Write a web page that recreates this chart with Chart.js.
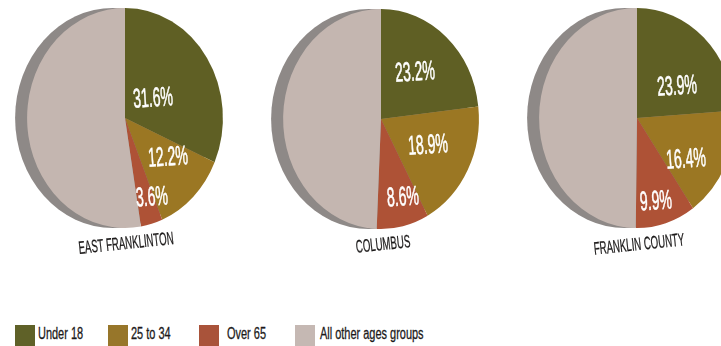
<!DOCTYPE html>
<html lang="en">
<head>
  <meta charset="UTF-8" />
  <title>Age groups by area</title>
  <script src="https://cdn.jsdelivr.net/npm/chart.js"></script>
  <style>
    html, body {
      margin: 0;
      background: #fff;
    }
    body {
      width: 721px;
      height: 346px;
      position: relative;
      overflow: hidden;
      font-family: "Liberation Sans", sans-serif;
      color: #1c1a1a;
    }
    canvas {
      position: absolute;
    }
    .caption {
      position: absolute;
      white-space: nowrap;
      font-size: 18px;
      line-height: 18px;
      -webkit-text-stroke: 0.3px #1c1a1a;
      transform: translate(-50%, -50%) rotate(-6deg) scaleX(0.535);
    }
    .swatch {
      position: absolute;
      top: 325px;
      width: 20px;
      height: 21px;
    }
    .legend-text {
      position: absolute;
      top: 326px;
      white-space: nowrap;
      font-size: 16px;
      line-height: 16px;
      -webkit-text-stroke: 0.3px #1c1a1a;
      transform-origin: left center;
      transform: scaleX(0.685);
    }
  </style>
</head>
<body>

  <canvas id="eastChart" width="250" height="236" style="left:0;top:0"></canvas>
  <canvas id="columbusChart" width="250" height="236" style="left:256px;top:1px"></canvas>
  <canvas id="franklinChart" width="250" height="236" style="left:512px;top:0"></canvas>

  <script>
    const categories = ['Under 18', '25 to 34', 'Over 65', 'All other ages groups'];
    const eastFranklinton = [31.6, 12.2, 3.6, 52.6];
    const columbus = [23.2, 18.9, 8.6, 49.3];
    const franklinCounty = [23.9, 16.4, 9.9, 49.8];
    const areaNames = ['EAST FRANKLINTON', 'COLUMBUS', 'FRANKLIN COUNTY'];

    const sliceColors = ['#5f5f24', '#9b7723', '#ae5236', '#c4b6b0'];
    const legendColors = ['#5f6128', '#97762a', '#a9533a', '#c5b8b3'];
    const RIM_COLOR = '#8e8987';
    const SQUASH_X = 0.89; // pies are a bit narrower than tall
    const RIM_SHIFT = 12;

    // squashes the arcs into an ellipse and paints the grey rim behind them
    const tiltedPie = {
      id: 'tiltedPie',
      beforeDatasetsDraw(chart) {
        const { ctx } = chart;
        const arc = chart.getDatasetMeta(0).data[0];
        ctx.save();
        ctx.fillStyle = RIM_COLOR;
        ctx.beginPath();
        ctx.ellipse(arc.x - RIM_SHIFT, arc.y, arc.outerRadius * SQUASH_X, arc.outerRadius, 0, 0, Math.PI * 2);
        ctx.fill();
        ctx.translate(arc.x, arc.y);
        ctx.scale(SQUASH_X, 1);
        ctx.translate(-arc.x, -arc.y);
      },
      afterDatasetsDraw(chart) {
        chart.ctx.restore();
      }
    };

    // percentage labels, condensed and slightly tilted
    const sliceLabels = {
      id: 'sliceLabels',
      afterDraw(chart, args, opts) {
        const { ctx } = chart;
        ctx.save();
        ctx.font = '27px "Liberation Sans", sans-serif';
        ctx.fillStyle = '#fff';
        ctx.strokeStyle = '#fff';
        ctx.lineWidth = 0.6;
        ctx.textAlign = 'center';
        ctx.textBaseline = 'middle';
        opts.spots.forEach((spot, i) => {
          const text = chart.data.datasets[0].data[i].toFixed(1) + '%';
          ctx.save();
          ctx.translate(spot[0] - opts.left, spot[1] - opts.top);
          ctx.rotate(-4 * Math.PI / 180);
          ctx.scale(0.52, 1);
          ctx.fillText(text, 0, 0);
          ctx.strokeText(text, 0, 0);
          ctx.restore();
        });
        ctx.restore();
      }
    };

    function createPie(id, values, left, top, spots) {
      new Chart(document.getElementById(id), {
        type: 'pie',
        data: {
          labels: categories,
          datasets: [{ data: values, backgroundColor: sliceColors, borderWidth: 0 }]
        },
        options: {
          responsive: false,
          animation: false,
          radius: 110,
          events: [],
          plugins: {
            legend: { display: false },
            tooltip: { enabled: false },
            sliceLabels: { spots, left, top }
          }
        },
        plugins: [tiltedPie, sliceLabels]
      });
    }

    createPie('eastChart', eastFranklinton, 0, 0, [[153, 99], [168, 158], [152, 198]]);
    createPie('columbusChart', columbus, 256, 1, [[415, 73], [428, 146], [403, 198]]);
    createPie('franklinChart', franklinCounty, 512, 0, [[677, 87], [686, 160], [656, 202]]);

    const captionSpots = [[126, 243], [383, 244], [639, 244]];
    areaNames.forEach((name, i) => {
      const el = document.createElement('div');
      el.className = 'caption';
      el.textContent = name;
      el.style.left = captionSpots[i][0] + 'px';
      el.style.top = captionSpots[i][1] + 'px';
      document.body.appendChild(el);
    });

    const swatchLeft = [15, 108, 199, 295];
    const legendTextLeft = [38, 131, 227, 320];
    categories.forEach((name, i) => {
      const box = document.createElement('div');
      box.className = 'swatch';
      box.style.left = swatchLeft[i] + 'px';
      box.style.background = legendColors[i];
      document.body.appendChild(box);

      const text = document.createElement('div');
      text.className = 'legend-text';
      text.style.left = legendTextLeft[i] + 'px';
      text.textContent = name;
      document.body.appendChild(text);
    });
  </script>

</body>
</html>
